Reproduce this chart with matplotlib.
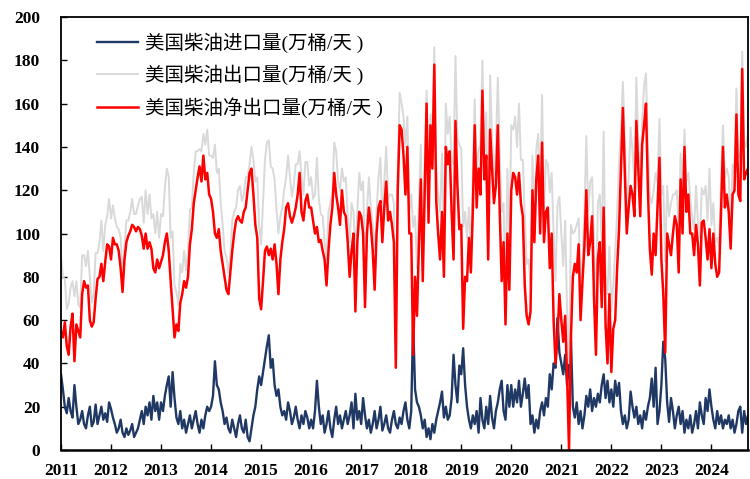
import numpy as np
import matplotlib
matplotlib.use('Agg')
import matplotlib.pyplot as plt

# biweekly readings (26 per year), 2011 -> Sep 2024, unit: 万桶/天
years = list(range(2011, 2025))
pts_per_year = 26

imports = [
    35, 28, 20, 17, 24, 18, 15, 30, 20, 12, 14, 18, 12, 10, 16, 20, 11, 13, 21, 12, 16, 20, 14, 17, 13, 22,  # 2011
    19, 15, 12, 8, 10, 14, 8, 6, 10, 7, 9, 12, 6, 8, 10, 14, 18, 12, 20, 16, 22, 14, 25, 18, 22, 14,  # 2012
    22, 18, 25, 30, 34, 20, 36, 24, 15, 12, 18, 10, 14, 8, 12, 16, 10, 14, 18, 12, 8, 14, 10, 16, 20, 18,  # 2013
    20, 25, 41, 30, 28, 22, 18, 12, 15, 10, 8, 14, 10, 6, 12, 16, 10, 8, 14, 6, 4, 10, 16, 20, 28, 34,  # 2014
    30, 36, 42, 48, 53, 38, 42, 30, 25, 28, 20, 16, 18, 14, 22, 18, 12, 15, 20, 14, 10, 16, 12, 18, 15, 10,  # 2015
    14, 10, 18, 32, 20, 12, 16, 8, 12, 18, 10, 6, 14, 20, 12, 16, 10, 14, 18, 12, 16, 22, 10, 26, 14, 18,  # 2016
    12, 24, 16, 10, 14, 8, 12, 18, 10, 14, 20, 9, 12, 16, 10, 8, 14, 18, 12, 10, 15, 12, 18, 22, 14, 10,  # 2017
    18, 59, 28, 22, 20, 16, 10, 14, 6, 10, 5, 12, 8, 14, 18, 22, 27, 15, 20, 14, 16, 24, 44, 30, 22, 39,  # 2018
    35, 47, 30, 20, 14, 10, 16, 12, 18, 8, 24, 14, 10, 20, 12, 25, 15, 10, 18, 22, 28, 32, 18, 14, 30, 20,  # 2019
    30, 20, 28, 22, 32, 20, 26, 33, 24, 30, 12, 16, 8, 14, 10, 18, 22, 16, 24, 20, 35, 28, 40, 38, 61, 45,  # 2020
    40, 35, 44, 30, 40, 52, 20, 15, 22, 12, 18, 10, 16, 25, 20, 28, 18, 24, 20, 26, 22, 30, 35, 24, 32, 22,  # 2021
    28, 20, 32, 25, 31, 18, 12, 16, 10, 14, 27, 20, 15, 20, 12, 16, 10, 18, 14, 20, 24, 33, 20, 38, 12, 18,  # 2022
    30, 50, 42, 22, 13, 24, 18, 10, 16, 20, 12, 18, 8, 14, 10, 16, 8, 12, 18, 10, 22, 16, 12, 24, 18, 28,  # 2023
    20, 14, 10, 18, 12, 16, 10, 14, 12, 16, 10, 14, 8, 12, 18, 20, 8, 18, 12, 16,  # 2024
]

net_exports = [
    55, 52, 59, 48, 44, 57, 63, 41, 58, 55, 52, 72, 78, 75, 76, 60, 57, 59, 70, 79, 80, 86, 78, 87, 95, 94,  # 2011
    88, 98, 95, 95, 92, 84, 73, 88, 96, 99, 101, 104, 103, 101, 103, 102, 99, 93, 100, 93, 96, 93, 84, 82, 88, 84,  # 2012
    87, 90, 96, 100, 92, 78, 65, 52, 58, 55, 68, 72, 78, 75, 80, 95, 102, 114, 120, 126, 131, 124, 136, 125, 128, 118,  # 2013
    116, 110, 100, 98, 102, 92, 86, 80, 74, 72, 82, 92, 100, 106, 108, 106, 105, 110, 112, 120, 128, 130, 118, 104, 98, 70,  # 2014
    65, 78, 92, 94, 90, 93, 88, 95, 86, 72, 88, 96, 102, 112, 114, 108, 105, 108, 112, 118, 128, 110, 106, 115, 118, 112,  # 2015
    112, 106, 100, 103, 96, 97, 92, 88, 76, 92, 104, 112, 128, 118, 112, 104, 120, 110, 108, 96, 80, 92, 100, 64, 96, 110,  # 2016
    108, 100, 66, 100, 112, 104, 92, 74, 100, 112, 115, 96, 112, 124, 106, 110, 104, 96, 38, 120, 150, 148, 136, 118, 140, 100,  # 2017
    100, 44, 80, 62, 95, 125, 78, 120, 160, 105, 150, 130, 178, 115, 100, 88, 110, 80, 140, 132, 138, 110, 88, 152, 122, 102,  # 2018
    104, 56, 80, 78, 98, 82, 110, 150, 112, 130, 118, 166, 125, 136, 88, 148, 130, 114, 122, 150, 110, 78, 96, 58, 100, 74,  # 2019
    120, 128, 126, 118, 128, 114, 108, 76, 62, 58, 64, 120, 96, 125, 136, 100, 142, 96, 110, 112, 84, 100, 60, 40, 52, 72,  # 2020
    60, 50, 62, 34, 0, 52, 80, 86, 82, 95, 60, 78, 94, 120, 90, 96, 108, 70, 44, 88, 96, 66, 112, 58, 40, 72,  # 2021
    36, 56, 60, 84, 102, 130, 158, 128, 100, 112, 122, 118, 108, 152, 130, 108, 141, 150, 160, 120, 93, 81, 100, 90, 112, 135,  # 2022
    88, 72, 45, 100, 95, 90, 100, 108, 104, 82, 125, 100, 140, 110, 118, 100, 100, 90, 104, 95, 76, 105, 106, 98, 88, 102,  # 2023
    84, 100, 86, 80, 82, 110, 140, 112, 118, 110, 93, 118, 120, 155, 118, 115, 176, 125, 128, 130,  # 2024
]

imports = np.array(imports, dtype=float)
net_exports = np.array(net_exports, dtype=float)
exports = net_exports + imports  # net = exports - imports
t = years[0] + np.arange(len(imports)) / pts_per_year

tick_font = {'family': 'Liberation Serif', 'weight': 'bold', 'size': 12.5}

fig = plt.figure(figsize=(7.5, 4.79), dpi=100)
ax = fig.add_axes([0.0813, 0.0605, 0.916, 0.904])

ax.plot(t, imports, color='#1f3864', lw=1.7, label='美国柴油进口量(万桶/天 )')
ax.plot(t, exports, color='#d9d9d9', lw=1.4, label='美国柴油出口量(万桶/天 )')
ax.plot(t, net_exports, color='#ff0000', lw=1.8, label='美国柴油净出口量(万桶/天 )')

ax.set_xlim(years[0], t[-1])
ax.set_ylim(0, 200)
ax.set_yticks(range(0, 201, 20))
ax.set_xticks(years)
ax.set_xticklabels([str(y) for y in years], fontdict=tick_font)
ax.set_yticklabels([str(v) for v in range(0, 201, 20)], fontdict=tick_font)
ax.tick_params(axis='both', direction='in', length=4, width=1)
ax.tick_params(axis='x', pad=9)
ax.tick_params(axis='y', pad=15)
for s in ax.spines.values():
    s.set_linewidth(1.3)
ax.spines['bottom'].set_linewidth(1.8)

ax.legend(loc='upper left', bbox_to_anchor=(0.041, 0.982), frameon=False,
          prop={'family': ['Liberation Serif', 'Noto Sans CJK SC'], 'size': 14},
          handlelength=2.1, handletextpad=0.35, labelspacing=0.62, borderaxespad=0)

plt.savefig('out.png', format='png')
